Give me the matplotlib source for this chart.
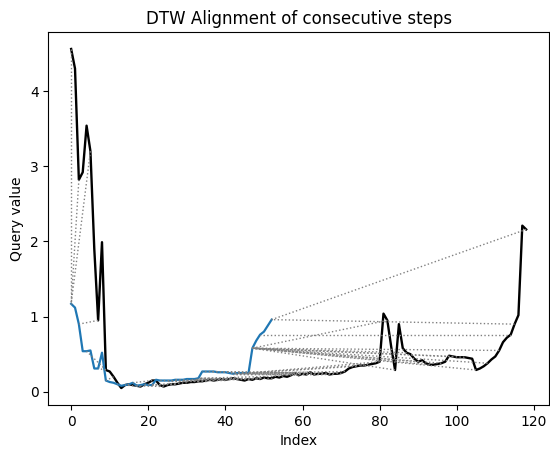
import numpy as np
import matplotlib
matplotlib.use("Agg")
import matplotlib.pyplot as plt
from matplotlib import collections as mc

# Query series (black)
query = [
    4.56, 4.30, 2.82, 2.92, 3.54, 3.20, 1.90, 0.95, 1.99, 0.29,
    0.27, 0.20, 0.12, 0.05, 0.09, 0.10, 0.09, 0.08, 0.07, 0.10,
    0.12, 0.15, 0.15, 0.09, 0.07, 0.09, 0.10, 0.10, 0.11, 0.12,
    0.12, 0.13, 0.13, 0.14, 0.14, 0.15, 0.16, 0.15, 0.16, 0.17,
    0.16, 0.17, 0.18, 0.17, 0.16, 0.15, 0.17, 0.16, 0.18, 0.17,
    0.19, 0.18, 0.18, 0.20, 0.19, 0.21, 0.20, 0.22, 0.25, 0.22,
    0.24, 0.23, 0.26, 0.23, 0.24, 0.24, 0.25, 0.23, 0.24, 0.24,
    0.25, 0.27, 0.31, 0.33, 0.34, 0.35, 0.35, 0.36, 0.37, 0.38,
    0.40, 1.04, 0.95, 0.60, 0.29, 0.90, 0.58, 0.52, 0.50, 0.44,
    0.40, 0.42, 0.38, 0.36, 0.36, 0.37, 0.38, 0.40, 0.48, 0.47,
    0.46, 0.46, 0.46, 0.45, 0.44, 0.29, 0.31, 0.34, 0.38, 0.43,
    0.47, 0.55, 0.66, 0.72, 0.76, 0.90, 1.02, 2.21, 2.16,
]

# Reference series (blue)
reference = [
    1.17, 1.12, 0.90, 0.54, 0.54, 0.55, 0.31, 0.31, 0.52, 0.15,
    0.13, 0.12, 0.10, 0.08, 0.09, 0.10, 0.12, 0.08, 0.09, 0.10,
    0.09, 0.09, 0.16, 0.15, 0.15, 0.15, 0.15, 0.16, 0.16, 0.16,
    0.17, 0.17, 0.17, 0.18, 0.27, 0.27, 0.27, 0.27, 0.26, 0.26,
    0.26, 0.25, 0.24, 0.25, 0.25, 0.25, 0.25, 0.58, 0.68, 0.76,
    0.80, 0.88, 0.96,
]


# Plain DTW with the symmetric2 step pattern
def dtw_path(x, y):
    x = np.asarray(x)
    y = np.asarray(y)
    n, m = len(x), len(y)
    d = np.abs(x[:, None] - y[None, :])
    g = np.full((n, m), np.inf)
    g[0, 0] = d[0, 0]
    for i in range(n):
        for j in range(m):
            if i == 0 and j == 0:
                continue
            best = np.inf
            if i > 0 and j > 0:
                best = min(best, g[i - 1, j - 1] + 2 * d[i, j])
            if i > 0:
                best = min(best, g[i - 1, j] + d[i, j])
            if j > 0:
                best = min(best, g[i, j - 1] + d[i, j])
            g[i, j] = best
    i, j = n - 1, m - 1
    path = [(i, j)]
    while i > 0 or j > 0:
        options = []
        if i > 0 and j > 0:
            options.append((g[i - 1, j - 1] + 2 * d[i, j], i - 1, j - 1))
        if i > 0:
            options.append((g[i - 1, j] + d[i, j], i - 1, j))
        if j > 0:
            options.append((g[i, j - 1] + d[i, j], i, j - 1))
        _, i, j = min(options)
        path.append((i, j))
    path.reverse()
    return np.array([p[0] for p in path]), np.array([p[1] for p in path])


index1, index2 = dtw_path(query, reference)

fig = plt.figure(figsize=(5.5, 4.51), dpi=100)
ax = fig.add_axes([0.088, 0.102, 0.91, 0.827])

ax.plot(np.arange(len(query)), query, color="k", linewidth=1.7)
ax.plot(np.arange(len(reference)), reference, linewidth=1.6)

# 50 matching lines spread along the warping path
idx = np.linspace(0, len(index1) - 1).astype(int)
col = []
for k in idx:
    col.append([(index1[k], query[index1[k]]), (index2[k], reference[index2[k]])])
lc = mc.LineCollection(col, linewidths=1, linestyles=":", colors="gray")
ax.add_collection(lc)

ax.set_title("DTW Alignment of consecutive steps")
ax.set_xlabel("Index")
ax.set_ylabel("Query value")

fig.savefig("out.png", dpi=100)
